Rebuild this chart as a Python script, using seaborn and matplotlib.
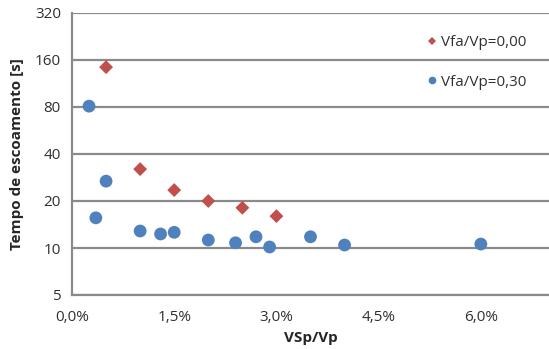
import pandas as pd
import matplotlib
matplotlib.use("Agg")
import matplotlib.pyplot as plt
from matplotlib.ticker import FixedLocator, FuncFormatter, NullLocator
import seaborn as sns

# series Vfa/Vp = 0,00 (red diamonds)
x_000 = [0.005, 0.010, 0.015, 0.020, 0.025, 0.030]
t_000 = [144, 32, 23.5, 20, 18.1, 16.0]

# series Vfa/Vp = 0,30 (blue circles)
x_030 = [0.0025, 0.005, 0.0035, 0.010, 0.013, 0.015, 0.020, 0.024, 0.027,
         0.029, 0.035, 0.040, 0.060]
t_030 = [81, 26.8, 15.6, 12.85, 12.3, 12.6, 11.25, 10.8, 11.8,
         10.15, 11.8, 10.45, 10.6]

series_labels = ["Vfa/Vp=0,00", "Vfa/Vp=0,30"]
y_ticks = [5, 10, 20, 40, 80, 160, 320]
x_ticks = [0.0, 0.015, 0.030, 0.045, 0.060]

df = pd.concat([
    pd.DataFrame({"x": x_000, "t": t_000, "serie": series_labels[0]}),
    pd.DataFrame({"x": x_030, "t": t_030, "serie": series_labels[1]}),
], ignore_index=True)

sns.set_style("white")
plt.rcParams["font.family"] = ["Open Sans", "DejaVu Sans"]

fig = plt.figure(figsize=(5.49, 3.49), dpi=100)
ax = fig.add_axes([72 / 549, 54 / 349, 477 / 549, 282 / 349])

grid_col = "#8a8a8a"
palette = {series_labels[0]: "#C0504D", series_labels[1]: "#4F81BD"}
markers = {series_labels[0]: "D", series_labels[1]: "o"}
sizes = {series_labels[0]: 50, series_labels[1]: 85}

sns.scatterplot(data=df, x="x", y="t", hue="serie", style="serie",
                size="serie", sizes=sizes,
                palette=palette, markers=markers, linewidth=0,
                ax=ax, zorder=5)

ax.set_yscale("log", base=2)
ax.set_ylim(5, 320)
ax.set_xlim(0, 0.07)
ax.yaxis.set_major_locator(FixedLocator(y_ticks))
ax.yaxis.set_minor_locator(NullLocator())
ax.yaxis.set_major_formatter(FuncFormatter(lambda v, p: f"{v:g}"))
ax.xaxis.set_major_locator(FixedLocator(x_ticks))
ax.xaxis.set_major_formatter(
    FuncFormatter(lambda v, p: f"{v * 100:.1f}%".replace(".", ",")))

ax.grid(axis="y", color=grid_col, linewidth=1.6)
ax.set_axisbelow(True)
for side in ["top", "right"]:
    ax.spines[side].set_visible(False)
for side in ["left", "bottom"]:
    ax.spines[side].set_color(grid_col)
    ax.spines[side].set_linewidth(1.6)
ax.tick_params(axis="both", direction="out", length=5, width=1.6,
               color=grid_col, labelsize=11, labelcolor="#303030", pad=3)
ax.tick_params(axis="x", pad=6)

ax.set_xlabel("VSp/Vp", fontsize=11, fontweight="bold", labelpad=4)
ax.set_ylabel("Tempo de escoamento [s]", fontsize=11, fontweight="bold",
              labelpad=8)

leg = ax.legend(loc="upper left", bbox_to_anchor=(0.71, 0.97), frameon=False,
                markerscale=0.6, handletextpad=0.1, handlelength=1.0,
                labelspacing=1.6, fontsize=11)
for txt in leg.get_texts():
    txt.set_color("#303030")

fig.savefig("out.png", dpi=100)
